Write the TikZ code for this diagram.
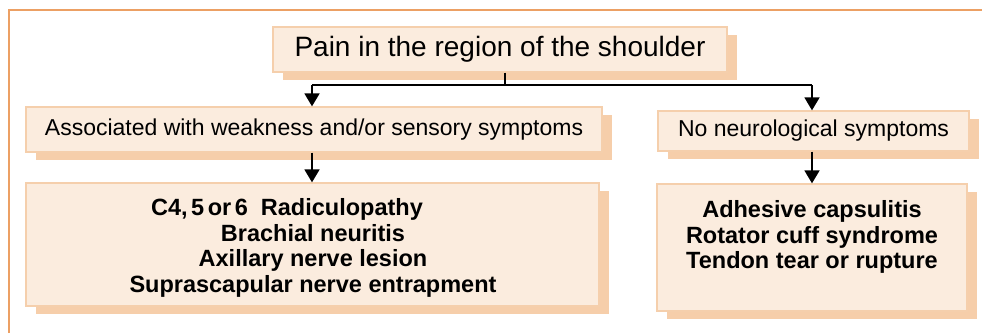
\documentclass[tikz,border=0pt]{standalone}
\usepackage{fontspec}
\setmainfont{Liberation Sans}
\usetikzlibrary{shadows,arrows.meta}
\definecolor{boxfill}{RGB}{251,236,222}
\definecolor{boxline}{RGB}{245,207,172}
\definecolor{shadowc}{RGB}{246,206,170}
\definecolor{framec}{RGB}{236,160,100}
\tikzset{
  box/.style={draw=boxline, line width=1.3pt, fill=boxfill, inner sep=0pt,
    drop shadow={fill=shadowc, opacity=1, shadow xshift=10pt, shadow yshift=-8pt}},
  toptext/.style={font=\fontsize{28}{30}\selectfont},
  midtext/.style={font=\fontsize{23}{26}\selectfont},
  bottext/.style={font=\fontsize{23.5}{25.5}\selectfont\bfseries, align=center},
  conn/.style={line width=1.8pt, black},
  arr/.style={conn, -{Triangle[width=15pt,length=13pt]}},
  framel/.style={draw=framec, line width=1.5pt}
}
\begin{document}
\begin{tikzpicture}[x=1pt,y=-1pt]
\useasboundingbox (0,0) rectangle (982,333);
\draw[framel] (9,333) -- (9,10) -- (982,10);
\node[box, toptext, minimum width=454pt, minimum height=45pt] (top) at (500,49.5) {Pain in the region of the shoulder};
\node[box, midtext, minimum width=576pt, minimum height=45pt] (midL) at (314,129.5) {Associated with weakness and/or sensory symptoms};
\node[box, midtext, minimum width=311pt, minimum height=40pt] (midR) at (813.5,131) {No neurological symptoms};
\node[box, minimum width=573pt, minimum height=123pt] (botL) at (312.5,244.5) {};
\node[bottext, inner sep=0pt] (botLtext) at (313,248)
  {C4,\kern3.5pt5\kern3.5pt or\kern3.5pt6\ \ Radiculopathy\hspace*{52pt}\\Brachial neuritis\\Axillary nerve lesion\\Suprascapular nerve entrapment};
\node[box, bottext, minimum width=310pt, minimum height=127pt] (botR) at (812,247.5)
  {Adhesive capsulitis\\Rotator cuff syndrome\\Tendon tear or rupture\\\mbox{}};
\coordinate (j) at (505,85);
\coordinate (aL) at (312,85);
\coordinate (aR) at (812,85);
\draw[conn] (top.south -| j) -- (j);
\draw[conn] (aL) -- (aR);
\draw[arr] (aL) -- (aL |- midL.north);
\draw[arr] (aR) -- (aR |- midR.north);
\draw[arr] (midL.south -| aL) -- (botL.north -| aL);
\draw[arr] (midR.south -| aR) -- (botR.north -| aR);
\end{tikzpicture}
\end{document}
